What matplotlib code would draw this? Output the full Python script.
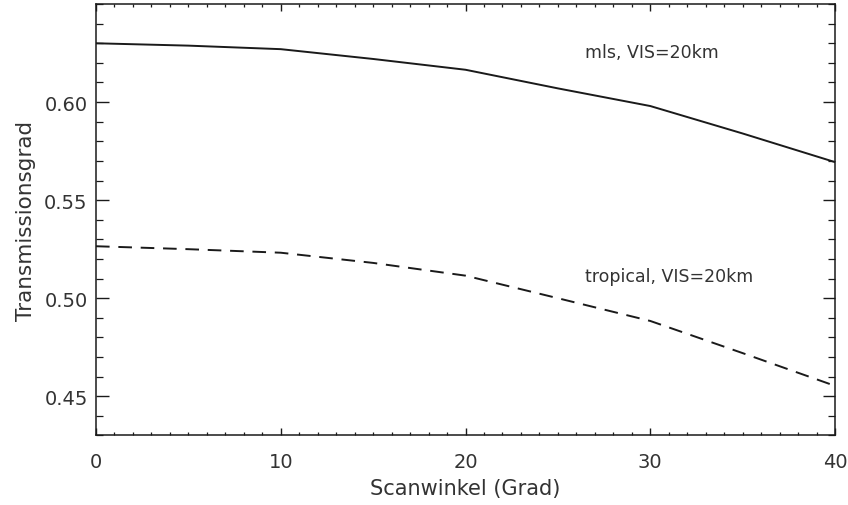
import matplotlib
matplotlib.use("Agg")
import matplotlib.pyplot as plt
from matplotlib.ticker import MultipleLocator

scan_angle = [0, 5, 10, 15, 20, 25, 30, 35, 40]
mls_vis20 = [0.630, 0.6288, 0.627, 0.622, 0.6165, 0.607, 0.598, 0.584, 0.5694]
tropical_vis20 = [0.5265, 0.525, 0.5232, 0.518, 0.5115, 0.500, 0.4884, 0.472, 0.4553]

x_ticks = [0, 10, 20, 30, 40]
y_ticks = [0.45, 0.50, 0.55, 0.60]
y_tick_labels = ["0.45", "0.50", "0.55", "0.60"]

label_mls = "mls, VIS=20km"
label_trop = "tropical, VIS=20km"
xlabel = "Scanwinkel (Grad)"
ylabel = "Transmissionsgrad"

ink = "#1a1a1a"
textc = "#333333"

fig = plt.figure(figsize=(8.48, 5.06), dpi=100)
ax = fig.add_axes([0.1132, 0.1374, 0.8715, 0.8526])

ax.plot(scan_angle, mls_vis20, color=ink, lw=1.4, ls="-")
ax.plot(scan_angle, tropical_vis20, color=ink, lw=1.4, ls=(0, (7, 4.5)))

ax.set_xlim(0, 40)
ax.set_ylim(0.43, 0.65)
ax.set_xticks(x_ticks)
ax.set_xticklabels([str(v) for v in x_ticks])
ax.set_yticks(y_ticks)
ax.set_yticklabels(y_tick_labels)
ax.xaxis.set_minor_locator(MultipleLocator(1))
ax.yaxis.set_minor_locator(MultipleLocator(0.01))

ax.tick_params(axis="x", which="major", direction="in", length=5, width=1.0,
               top=True, bottom=True, labelsize=14, pad=12, colors=ink, labelcolor=textc)
ax.tick_params(axis="x", which="minor", direction="in", length=2.5, width=0.9,
               top=True, bottom=True, colors=ink)
ax.tick_params(axis="y", which="major", direction="in", length=9, width=1.0,
               left=True, right=True, labelsize=14, pad=6, colors=ink, labelcolor=textc)
ax.tick_params(axis="y", which="minor", direction="in", length=5, width=0.9,
               left=True, right=True, colors=ink)

for s in ax.spines.values():
    s.set_linewidth(1.1)
    s.set_color(ink)

ax.set_xlabel(xlabel, fontsize=15, color=textc, labelpad=5)
ax.set_ylabel(ylabel, fontsize=15.5, color=textc, labelpad=6)

ax.text(26.45, 0.6255, label_mls, fontsize=12.5, color=textc, va="center", ha="left")
ax.text(26.45, 0.5112, label_trop, fontsize=12.5, color=textc, va="center", ha="left")

fig.savefig("out.png", dpi=100)
